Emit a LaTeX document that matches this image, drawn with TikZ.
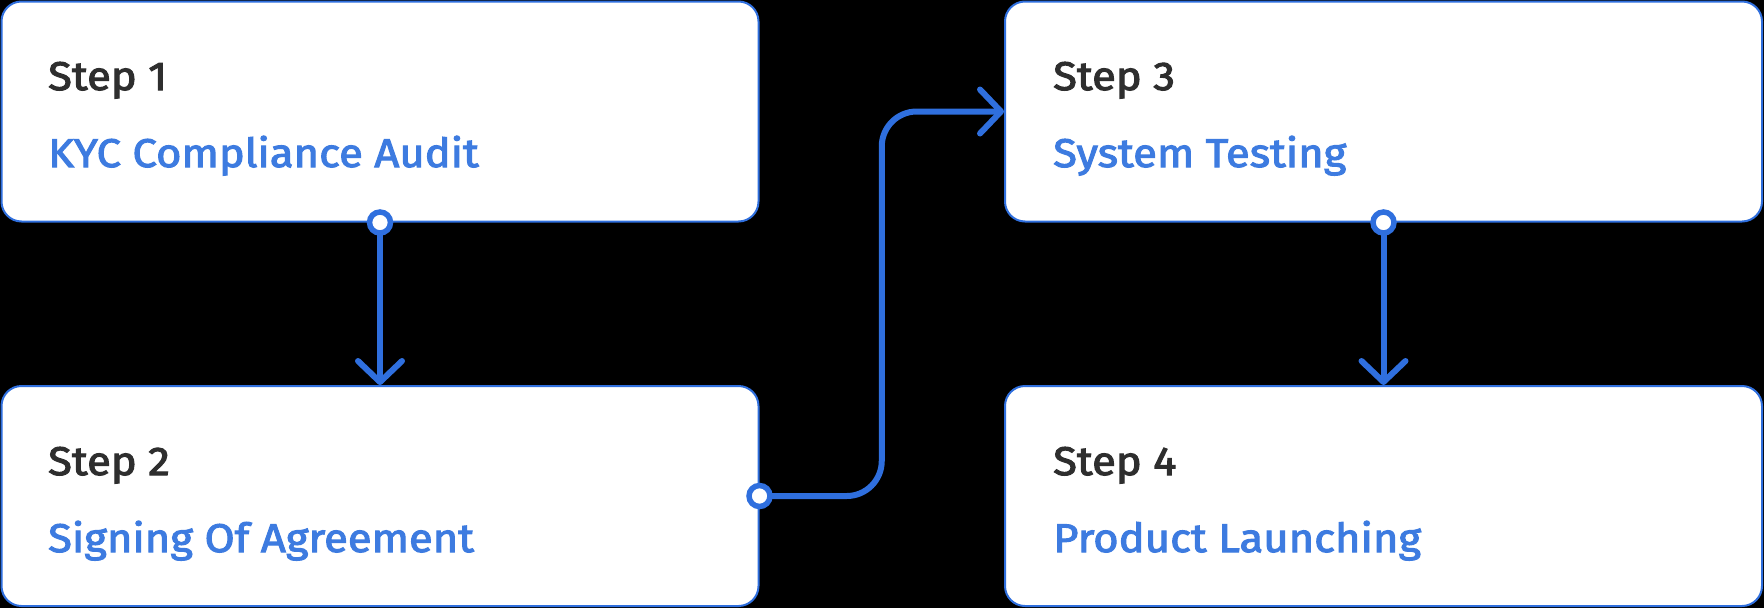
\documentclass[tikz,border=0pt]{standalone}
\usepackage{fontspec}
\newfontfamily\stepfont{Fira Sans}[FakeBold=2.6, FakeStretch=1.09]
\usetikzlibrary{arrows.meta,calc}
\definecolor{linkblue}{HTML}{2F6FDE}
\definecolor{textblue}{HTML}{3D7BE0}
\definecolor{stepgray}{HTML}{2E2E2E}
\tikzset{
  stepbox/.style={draw=linkblue, line width=2pt, fill=white, rounded corners=20pt,
    minimum width=757pt, minimum height=220pt, inner sep=0pt},
  steplabel/.style={anchor=base west, inner sep=0pt, text=stepgray, font=\stepfont\fontsize{40}{40}\selectfont},
  titlelabel/.style={anchor=base west, inner sep=0pt, text=textblue, font=\stepfont\fontsize{40}{40}\selectfont},
  conn/.style={draw=linkblue, line width=6pt, line cap=round,
    -{Straight Barb[length=21pt,width=44pt,line width=6pt,round]}},
  dot/.style={circle, draw=linkblue, line width=5.5pt, fill=white, minimum size=21pt, inner sep=0pt}
}
\begin{document}
\begin{tikzpicture}[x=1pt,y=-1pt]
\fill[black] (0,0) rectangle (1764,608);
\useasboundingbox (0,0) rectangle (1764,608);
\node[stepbox] (b1) at (380,111.5) {};
\node[stepbox] (b2) at (380,496) {};
\node[stepbox] (b3) at (1383.5,111.5) {};
\node[stepbox] (b4) at (1383.5,496) {};
\node[steplabel] (s1) at (48,90) {Step 1};
\node[titlelabel] (t1) at (48,167) {KYC Compliance Audit};
\node[steplabel] (s2) at (48,475) {Step 2};
\node[titlelabel] (t2) at (48,552) {Signing Of Agreement};
\node[steplabel] (s3) at (1053,90) {Step 3};
\node[titlelabel] (t3) at (1053,167) {System Testing};
\node[steplabel] (s4) at (1053,475) {Step 4};
\node[titlelabel] (t4) at (1053,552) {Product Launching};
\draw[conn] (b1.south) -- (b2.north);
\draw[conn] (b3.south) -- (b4.north);
\draw[conn, rounded corners=35pt] (b2.east) -| ($(b2.east)!0.5!(b3.west)$) |- (b3.west);
\node[dot] (d1) at (b1.south) {};
\node[dot] (d3) at (b3.south) {};
\node[dot] (d2) at (b2.east) {};
\end{tikzpicture}
\end{document}
